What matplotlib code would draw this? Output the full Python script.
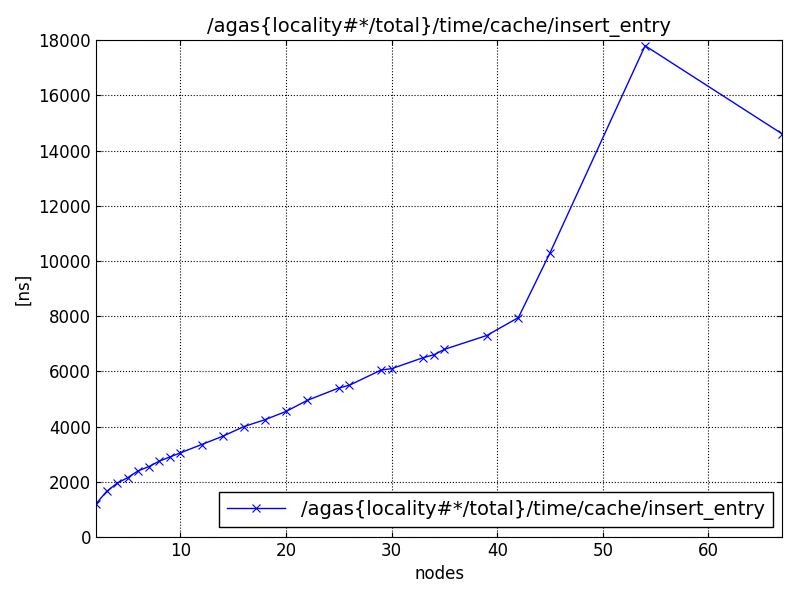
import matplotlib
matplotlib.use("Agg")
import matplotlib.pyplot as plt

nodes = [2,3,4,5,6,7,8,9,10,12,14,16,18,20,22,25,26,29,30,33,34,35,39,42,45,54,67]
values = [1200,1650,1950,2150,2400,2550,2750,2900,3050,3350,3650,4000,4250,4550,4950,5400,5500,6050,6100,6500,6600,6800,7300,7950,10300,17800,14600]
label = "/agas{locality#*/total}/time/cache/insert_entry"

fig, ax = plt.subplots(figsize=(8, 6), dpi=100)
fig.subplots_adjust(left=0.12, right=0.978, top=0.933, bottom=0.105)
ax.plot(nodes, values, color="blue", marker="x", markersize=6, markeredgewidth=0.8, linewidth=1, label=label)
ax.set_xlim(2, 67)
ax.set_ylim(0, 18000)
ax.set_yticks(range(0, 18001, 2000))
ax.set_xticks([10, 20, 30, 40, 50, 60])
ax.grid(True, color="black", linestyle=":", linewidth=0.8)
ax.tick_params(direction="in", labelsize=12, top=True, right=True)
ax.set_xlabel("nodes", fontsize=12)
ax.set_ylabel("[ns]", fontsize=12)
ax.set_title(label, fontsize=14)
ax.legend(loc="lower right", fontsize=14, fancybox=False, edgecolor="black", framealpha=1, handlelength=3)
fig.savefig("out.png")
